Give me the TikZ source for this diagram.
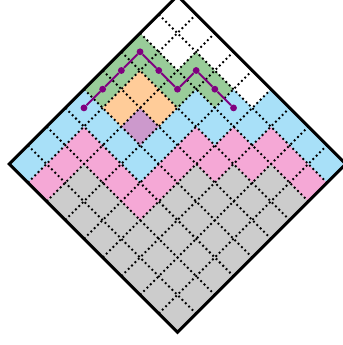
\documentclass[tikz,border=0pt]{standalone}
\usepackage{xcolor}
\definecolor{bandgreen}{HTML}{99CC99}
\definecolor{bandorange}{HTML}{FFCC99}
\definecolor{bandlilac}{HTML}{CC99CC}
\definecolor{bandblue}{HTML}{A8E0F8}
\definecolor{bandpink}{HTML}{F5A8D6}
\definecolor{bandgray}{HTML}{CCCCCC}
\definecolor{walkpurple}{HTML}{800080}

\begin{document}
\begin{tikzpicture}[
  x=0.5cm,
  y=0.5cm,
  frame/.style={black, line width=2.3pt, line join=miter},
  grid/.style={black, line width=1.5pt,
    dash pattern=on 1.4pt off 2.2pt},
  walk/.style={walkpurple, line width=1.5pt},
  walkdot/.style={circle, fill=walkpurple, inner sep=0pt, minimum size=5.2pt}
]
  % ---- picture area, the top and right corners run off it ---------------
  \useasboundingbox (-9.49,-9.68) rectangle (8.85,8.77);

  % ---- bands, from the bottom up -----------------------------------------
  \fill[bandgray] (-9,0) -- (0,9) -- (9,0) -- (0,-9) -- cycle;
  \fill[bandpink]
    (-7,-2) -- (-5,0) -- (-2,-3) -- (1,0) -- (2,-1) -- (3,0) -- (4,-1)
    -- (5,0) -- (7,-2) -- (9,0) -- (0,9) -- (-9,0) -- cycle;
  \fill[bandblue]
    (-8,-1) -- (-5,2) -- (-2,-1) -- (1,2) -- (2,1) -- (3,2) -- (4,1)
    -- (5,2) -- (8,-1) -- (9,0) -- (0,9) -- (-9,0) -- cycle;
  \fill[white]
    (-5,4) -- (-4,3) -- (-3,2) -- (-2,1) -- (-1,2) -- (0,3) -- (1,4)
    -- (2,3) -- (3,4) -- (4,3) -- (5,4) -- (0,9) -- cycle;
  \fill[bandgreen]
    (-5,4) -- (-2,7) -- (0,5) -- (1,6) -- (3,4) -- (2,3) -- (1,4)
    -- (0,3) -- (-2,5) -- (-4,3) -- cycle;
  \fill[bandorange]
    (-2,5) -- (0,3) -- (-1,2) -- (-2,3) -- (-3,2) -- (-4,3) -- cycle;
  \fill[bandlilac] (-2,3) -- (-1,2) -- (-2,1) -- (-3,2) -- cycle;

  % ---- dotted cell lines, in the square's own frame ----------------------
  \begin{scope}[shift={(-9,0)}, x={(0.5cm,0.5cm)}, y={(0.5cm,-0.5cm)}]
    \foreach \k in {1,...,8} {
      \draw[grid] (\k,0) -- (\k,9);
      \draw[grid] (0,\k) -- (9,\k);
    }
  \end{scope}

  % ---- outline -----------------------------------------------------------
  \draw[frame] (-9,0) -- (0,9) -- (9,0) -- (0,-9) -- cycle;

  % ---- the walk through the green cells ----------------------------------
  \foreach \x/\y [count=\i] in {-5/3,-4/4,-3/5,-2/6,-1/5,0/4,1/5,2/4,3/3}
    \node[walkdot] (w\i) at (\x,\y) {};
  \draw[walk] (w1) -- (w2) -- (w3) -- (w4) -- (w5) -- (w6) -- (w7)
    -- (w8) -- (w9);

\end{tikzpicture}
\end{document}
